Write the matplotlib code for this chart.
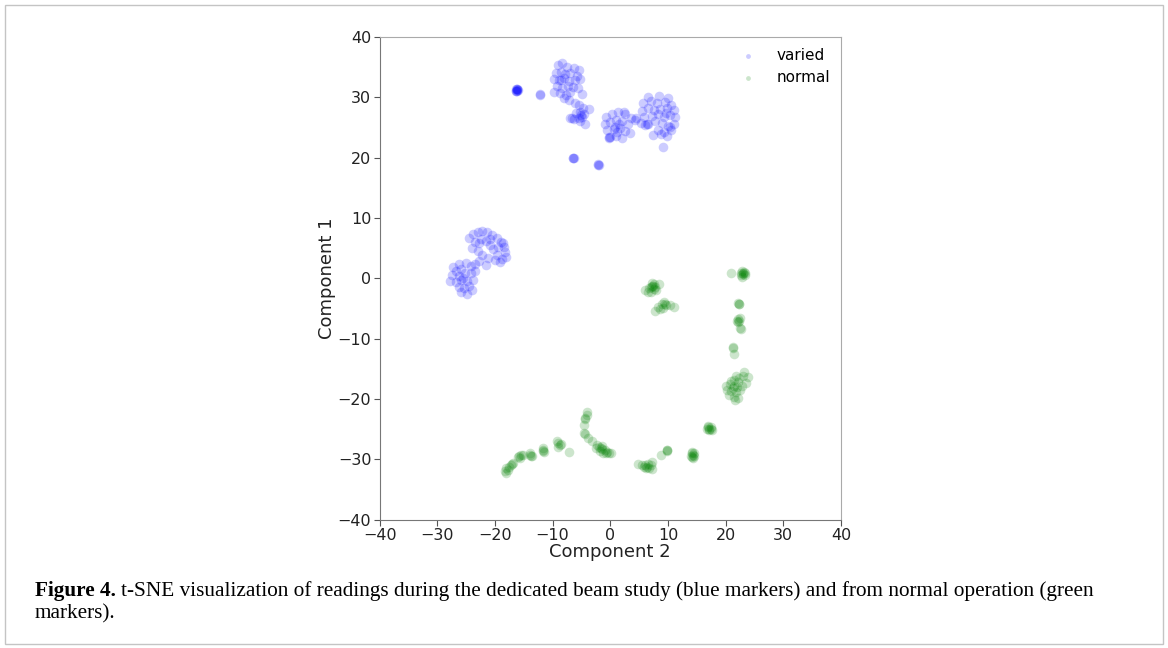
import matplotlib.pyplot as plt
from matplotlib.patches import Rectangle

# t-SNE coordinates, (component 2, component 1) per cluster
varied_blob_a = [(-16.3, 31.3), (-16.1, 31.0), (-16.2, 31.4), (-16.0, 31.2), (-16.4, 31.1),
                 (-16.2, 31.2), (-16.1, 31.3), (-16.3, 31.0), (-12.2, 30.5), (-12.2, 30.4)]
varied_s_shape = [(-9.0, 35.3), (-8.3, 35.6), (-7.5, 35.0), (-6.3, 34.8), (-5.5, 34.5), (-9.4, 34.0),
                  (-8.6, 34.2), (-7.8, 33.9), (-6.9, 34.1), (-5.8, 33.6), (-9.7, 33.0), (-8.9, 32.8),
                  (-8.6, 32.8), (-8.0, 33.2), (-7.2, 32.7), (-6.2, 32.9), (-5.3, 33.0), (-9.2, 31.9),
                  (-8.4, 31.5), (-7.4, 31.9), (-6.5, 31.7), (-5.6, 31.5), (-9.8, 30.8), (-8.7, 30.7),
                  (-7.7, 30.4), (-6.9, 30.9), (-4.9, 30.6), (-8.0, 29.9), (-7.1, 29.5), (-6.2, 29.0),
                  (-5.5, 28.7), (-4.8, 28.3), (-5.2, 27.6), (-6.0, 27.4), (-4.5, 27.2), (-6.9, 26.6),
                  (-6.3, 26.4), (-5.5, 26.5), (-4.9, 26.7), (-3.7, 28.0), (-4.3, 25.6), (-5.3, 26.0),
                  (-6.6, 26.5), (-5.0, 27.0)]
varied_strays = [(-6.4, 19.9), (-6.4, 20.0), (-6.3, 19.9), (-2.1, 18.8), (-2.1, 18.9), (-2.0, 18.8)]
varied_blob_b = [(-0.8, 26.8), (0.3, 27.3), (1.4, 27.5), (2.6, 27.2), (3.6, 26.6), (-1.0, 25.5),
                 (0.0, 25.9), (1.0, 26.2), (2.0, 26.0), (3.0, 25.6), (4.2, 26.3), (-0.5, 24.6),
                 (0.6, 24.8), (1.7, 24.9), (2.6, 24.4), (3.5, 24.0), (-0.2, 23.4), (-0.2, 23.3),
                 (-0.1, 23.5), (1.0, 23.6), (2.1, 23.3), (0.8, 25.0), (1.5, 25.6), (4.5, 26.5),
                 (2.4, 27.5), (1.2, 24.2)]
varied_blob_c = [(6.6, 30.0), (8.4, 30.2), (10.0, 29.8), (5.7, 29.0), (7.0, 29.4), (8.1, 29.0),
                 (9.5, 29.3), (10.6, 28.8), (5.5, 27.8), (6.5, 28.2), (7.6, 27.9), (8.7, 28.0),
                 (9.8, 28.2), (11.0, 27.9), (5.9, 26.8), (7.2, 26.9), (8.3, 27.3), (9.4, 26.8),
                 (10.4, 27.0), (11.2, 26.7), (5.4, 25.8), (6.6, 25.5), (7.8, 26.0), (9.0, 25.8),
                 (10.0, 25.3), (11.1, 25.5), (6.1, 25.4), (8.2, 24.5), (9.3, 24.3), (10.5, 24.6),
                 (7.4, 23.8), (8.8, 23.9), (9.9, 23.6), (9.1, 21.7), (6.3, 25.6), (9.6, 27.4),
                 (10.3, 25.0)]
varied_left = [(-24.5, 6.6), (-23.8, 7.3), (-23.0, 7.7), (-22.2, 7.9), (-21.3, 7.6), (-20.5, 7.2),
               (-19.7, 6.6), (-19.0, 6.0), (-18.5, 5.2), (-18.2, 4.4), (-18.0, 3.6), (-18.8, 3.2),
               (-19.6, 3.8), (-20.3, 4.8), (-20.9, 5.6), (-21.6, 6.2), (-22.5, 6.5), (-23.4, 6.0),
               (-24.0, 5.0), (-23.0, 4.6), (-22.2, 3.8), (-21.2, 3.4), (-20.0, 3.0), (-19.4, 5.2),
               (-18.6, 5.9), (-22.8, 5.8), (-20.8, 6.5), (-19.2, 2.7), (-25.0, 2.6), (-24.2, 2.0),
               (-23.4, 2.4), (-25.8, 1.6), (-26.8, 1.2), (-27.4, 0.5), (-26.2, 0.4), (-25.2, 0.8),
               (-24.2, 0.9), (-23.5, 1.2), (-27.8, -0.4), (-26.8, -0.6), (-25.8, -0.2), (-24.8, -0.5),
               (-26.3, -1.4), (-25.4, -1.6), (-24.5, -1.2), (-25.8, -2.3), (-24.8, -2.6), (-23.8, -0.3),
               (-22.7, 2.8), (-21.5, 2.2), (-27.2, 1.9), (-24.0, -2.0), (-26.2, 2.4), (-25.5, 0.1)]

normal_mid = [(6.0, -2.0), (6.7, -1.6), (7.2, -1.2), (7.5, -1.0), (7.8, -1.5), (7.0, -2.2),
              (7.6, -1.8), (8.4, -1.0), (7.3, -0.8), (6.5, -2.3), (7.9, -2.0), (7.1, -1.5),
              (7.4, -1.3), (7.8, -5.4), (8.3, -4.8), (8.9, -4.3), (9.3, -4.0), (9.7, -4.4),
              (9.1, -4.9), (10.3, -4.5), (11.0, -4.7), (8.6, -5.1), (9.5, -4.2)]
normal_right = [(22.6, 0.9), (23.0, 0.7), (23.3, 0.5), (22.8, 1.2), (23.2, 1.0), (22.9, 0.3),
                (23.4, 0.9), (22.7, 0.5), (23.1, 0.8), (21.0, 0.8), (22.3, -4.2), (22.3, -4.3),
                (22.2, -4.1), (22.1, -6.7), (22.4, -7.0), (22.2, -7.3), (22.5, -6.6), (22.0, -7.1),
                (22.5, -8.2), (22.6, -8.4), (21.2, -11.4), (21.4, -12.5), (21.2, -11.5)]
normal_clump = [(21.5, -16.8), (22.3, -16.6), (23.0, -16.2), (23.8, -16.3), (20.8, -17.5), (21.5, -17.8),
                (22.2, -17.2), (22.8, -17.8), (23.6, -17.4), (20.2, -18.5), (21.0, -18.6), (21.8, -18.9),
                (22.5, -18.5), (20.6, -19.3), (21.4, -19.6), (22.2, -19.8), (21.0, -17.0), (21.8, -16.2),
                (22.0, -18.0), (21.2, -18.2), (23.2, -15.6), (20.0, -17.8), (21.6, -20.2)]
normal_arc = [(16.9, -24.6), (17.2, -24.9), (17.5, -24.7), (17.1, -25.2), (17.4, -25.0), (16.8, -25.0),
              (17.7, -25.1), (17.0, -24.4), (14.1, -29.0), (14.4, -29.3), (14.2, -29.6), (14.5, -28.9),
              (14.0, -29.4), (14.3, -29.8), (14.6, -29.5), (14.2, -28.7), (9.8, -28.5), (9.9, -28.6),
              (9.8, -28.4), (8.8, -29.2), (4.8, -30.7), (5.5, -30.9), (6.0, -31.0), (6.4, -31.2),
              (6.8, -31.4), (7.0, -30.9), (7.3, -30.4), (6.2, -31.5), (5.8, -31.2), (6.6, -30.8),
              (7.2, -31.6)]
normal_hook = [(-4.0, -22.1), (-4.1, -22.6), (-4.3, -23.2), (-4.3, -23.3), (-4.5, -24.3), (-4.5, -25.7),
               (-4.4, -25.8), (-3.8, -26.5), (-3.2, -27.0), (-2.3, -27.6), (-2.0, -27.9), (-1.6, -28.1),
               (-1.4, -28.3), (-1.0, -28.4), (-0.6, -28.7), (-0.2, -28.9), (0.1, -29.0), (-1.8, -28.6),
               (-1.2, -28.9), (-2.5, -28.1), (-0.8, -29.0), (-1.5, -27.8)]
normal_tail = [(-9.0, -27.3), (-9.2, -27.0), (-8.8, -27.6), (-9.1, -27.9), (-8.5, -27.4), (-7.1, -28.7),
               (-11.6, -28.6), (-11.5, -28.8), (-11.7, -28.4), (-11.6, -28.2), (-13.9, -29.2), (-13.7, -29.4),
               (-14.0, -29.0), (-13.5, -29.5), (-15.8, -29.4), (-15.5, -29.3), (-16.0, -29.6), (-15.2, -29.2),
               (-15.7, -29.8), (-17.0, -30.8), (-17.3, -31.0), (-17.6, -31.3), (-18.0, -31.5), (-18.2, -31.9),
               (-18.1, -32.3), (-17.8, -31.7), (-16.8, -30.6)]

varied = varied_blob_a + varied_s_shape + varied_strays + varied_blob_b + varied_blob_c + varied_left
normal = normal_mid + normal_right + normal_clump + normal_arc + normal_hook + normal_tail

caption_bold = "Figure 4."
caption_rest = ("t-SNE visualization of readings during the dedicated beam study (blue markers) "
                "and from normal operation (green")
caption_line2 = "markers)."

fig = plt.figure(figsize=(11.68, 6.48), dpi=100)
fig.patches.append(Rectangle((0.004, 0.006), 0.992, 0.986, transform=fig.transFigure,
                             fill=False, edgecolor='#c4c4c4', linewidth=1.0))

ax = fig.add_axes([0.325, 0.198, 0.395, 0.745])
ax.scatter([p[0] for p in varied], [p[1] for p in varied], s=48, color='blue',
           alpha=0.2, linewidths=0, label='varied')
ax.scatter([p[0] for p in normal], [p[1] for p in normal], s=48, color='green',
           alpha=0.2, linewidths=0, label='normal')

ax.set_xlim(-40, 40)
ax.set_ylim(-40, 40)
ax.set_xticks(range(-40, 41, 10))
ax.set_yticks(range(-40, 41, 10))
ax.tick_params(labelsize=11.5, color='#555555', length=4, labelcolor='#222222', pad=2)
ax.set_xlabel("Component 2", fontsize=13, color='#222222', labelpad=0)
ax.set_ylabel("Component 1", fontsize=13, color='#222222', labelpad=1)
for side in ax.spines:
    ax.spines[side].set_color('#aaaaaa')
ax.spines['left'].set_color('#777777')
ax.spines['bottom'].set_color('#777777')

ax.legend(loc='upper right', frameon=False, fontsize=11, markerscale=0.5,
          handletextpad=0.9, borderaxespad=0.3)

fs = 15.3
t_bold = fig.text(0.030, 0.088, caption_bold, fontsize=fs, fontweight='bold',
                  family='Liberation Serif', va='center')
r = fig.canvas.get_renderer()
bb = t_bold.get_window_extent(renderer=r)
x_next = (bb.x1 + 5) / fig.bbox.width
fig.text(x_next, 0.088, caption_rest, fontsize=fs, family='Liberation Serif', va='center')
fig.text(0.030, 0.052, caption_line2, fontsize=fs, family='Liberation Serif', va='center')

fig.savefig('out.png', dpi=100)
